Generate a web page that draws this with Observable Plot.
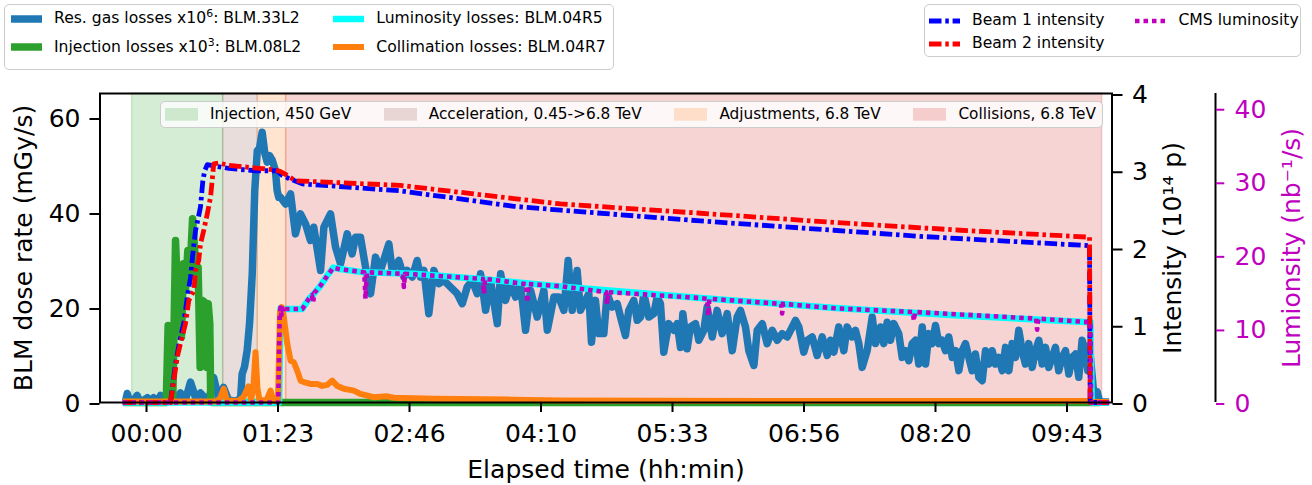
<!DOCTYPE html>
<html>
<head>
<meta charset="utf-8">
<script src="https://cdn.jsdelivr.net/npm/d3@7"></script>
<script src="https://cdn.jsdelivr.net/npm/@observablehq/plot@0.6"></script>
<style>
  html, body { margin: 0; padding: 0; background: #fff; }
  #wrap { position: relative; width: 1312px; height: 485px; overflow: hidden; font-family: "DejaVu Sans", sans-serif; }
  #wrap > svg { position: absolute; left: 0; top: 0; }
  .legend { position: absolute; box-sizing: border-box; border: 1.5px solid #cccccc; border-radius: 5px;
            background: rgba(255,255,255,0.8); font-size: 15.6px; color: #000; }
  .entry { display: flex; align-items: center; white-space: nowrap; line-height: 1.2; }
  .entry svg { flex: none; margin-right: 12px; display: block; }
  .sup { font-size: 0.7em; position: relative; top: -0.55em; }
  #lossLegend { left: 4px; top: 4px; width: 610px; height: 66px; display: grid; grid-auto-flow: column;
                grid-template-rows: 27.5px 29px; column-gap: 31px; padding: 0 6px; align-content: start; }
  #beamLegend { left: 924px; top: 4px; width: 377px; height: 53px; display: grid; grid-auto-flow: column;
                grid-template-rows: 22.7px 22.7px; column-gap: 31px; padding: 4.5px 5px 0 4px; align-content: start; }
  #phaseLegend { left: 160px; top: 101px; width: 943px; height: 27px; display: flex; align-items: center;
                 justify-content: space-between; padding: 0 6px 0 4px; font-size: 15.3px; }
</style>
</head>
<body>
<div id="wrap">
  <div id="lossLegend" class="legend"></div>
  <div id="beamLegend" class="legend"></div>
  <div id="phaseLegend" class="legend"></div>
</div>
<script>
// ---- axis ranges and ticks -------------------------------------------------
const yMax = 65.05;          // BLM dose rate (mGy/s), left axis
const intensityMax = 4;      // beam intensity (1e14 p), right axis
const lumMax = 42;           // luminosity (nb^-1/s), outer right axis
const timeDomain = [-29.47, 611.85];  // elapsed minutes
const timeTickSeconds = [0, 5000, 10000, 15000, 20000, 25000, 30000, 35000];
const timeTickLabels = ["00:00", "01:23", "02:46", "04:10", "05:33", "06:56", "08:20", "09:43"];
const doseTicks = [0, 20, 40, 60];
const intensityTicks = [0, 1, 2, 3, 4];
const lumTicks = [0, 10, 20, 30, 40];

// ---- machine phases (elapsed minutes) ---------------------------------------
const phaseNames = ["Injection, 450 GeV", "Acceleration, 0.45->6.8 TeV", "Adjustments, 6.8 TeV", "Collisions, 6.8 TeV"];
const phaseStart = [-9.1, 48.6, 70.5, 88.5];
const phaseEnd = [48.6, 70.5, 88.5, 605.6];
const phaseColors = ["#2ca02c", "#8c564b", "#ff7f0e", "#d62728"];

// ---- BLM signals, [elapsed minutes, mGy/s] -----------------------------------
const resGasLoss = [
  [-15,0.3],[-13.3,0.3],[-12.2,1.9],[-10.8,0.3],[-9.5,0.2],[-7.5,0.8],[-5.9,1.5],[-4.5,0.4],[-3.2,0.2],[-1.3,0.6],
  [0.6,1.0],[2.5,0.2],[4.4,1.0],[7.0,0.2],[8.9,1.5],[12.0,0.3],[15.2,1.8],[18.4,0.4],[21.5,2.0],[24.7,0.5],
  [27.9,4.3],[31.1,1.0],[34.2,2.0],[37.4,0.8],[40.2,1.5],[42.5,5.3],[45.6,1.0],[48.8,3.2],[52.0,0.5],[56.4,0.3],
  [59.6,0.8],[60.6,6.0],[62.1,7.5],[63.8,11.0],[65.3,16.6],[67.0,27.0],[68.6,44.6],[70.2,53.0],[71.6,53.5],[73.3,56.9],
  [75.0,52.4],[76.5,50.6],[77.9,52.0],[79.7,51.0],[81.7,48.8],[82.8,44.6],[83.8,43.2],
  [84.9,43.2],[88.1,41.8],[91.3,43.9],[94.4,35.5],[97.6,39.7],[100.8,37.6],[103.9,34.1],[106.0,36.9],[110.3,27.8],
  [112.4,36.9],[116.6,39.7],[119.8,32.7],[123.0,29.2],[127.2,35.5],[130.3,31.3],[132.5,34.8],[135.6,34.8],[138.8,28.5],
  [142.0,22.9],[145.1,30.6],[148.3,27.8],[153.6,33.4],[155.7,27.8],[159.9,29.9],[163.1,26.4],[165.2,27.8],[168.4,26.4],
  [171.5,29.9],[173.6,26.4],[175.8,27.8],[178.9,18.7],[182.1,27.8],[185.3,25.0],[188.4,25.7],[192.7,24.3],[196.9,22.9],
  [200.1,20.8],[203.2,24.3],[206.4,25.7],[209.6,22.9],[211.7,27.1],[214.9,19.4],[218.0,25.7],[222.3,16.6],[224.4,27.1],
  [227.5,21.5],[230.7,25.0],[233.9,22.2],[237.0,25.0],[240.2,15.2],[243.4,23.6],[247.6,18.0],[251.8,23.6],[254.0,15.2],
  [258.2,22.2],[261.3,22.2],[264.5,19.4],[267.2,29.9],[269.8,19.4],[272.9,27.8],[275.0,19.4],[278.2,21.5],[280.3,22.9],
  [282.0,12.7],[284.5,21.5],[286.6,14.5],[289.8,14.5],[291.9,22.9],[295.1,20.1],[298.3,20.8],[300.4,18.0],[303.5,14.1],
  [305.6,19.4],[308.8,21.5],[311.0,17.3],[313.1,18.0],[315.2,22.9],[318.3,18.0],[321.5,18.7],[323.6,22.2],[325.7,20.8],
  [327.8,10.6],[331.0,16.6],[334.2,15.2],[336.3,16.6],[338.4,11.6],[339.9,18.7],[342.6,11.3],[344.7,15.9],[347.9,16.6],
  [350.0,13.1],[353.2,15.2],[355.3,20.1],[358.5,13.8],[361.6,19.4],[364.8,14.5],[368.0,18.7],[371.2,10.9],[374.3,18.0],
  [376.4,19.4],[379.6,15.9],[381.7,10.9],[384.9,7.8],[387.0,15.2],[390.2,16.6],[393.3,12.4],[396.5,15.2],[399.7,13.1],
  [402.8,14.5],[406.0,13.8],[409.2,15.9],[411.3,17.3],[413.4,15.9],[416.5,10.6],[418.7,13.1],[421.9,13.8],[425.0,9.9],
  [428.2,13.8],[431.4,9.9],[433.5,13.1],[435.6,10.6],[438.7,15.9],[441.9,10.9],[444.0,15.9],[447.2,13.8],[449.3,15.2],
  [451.4,12.4],[453.5,7.4],[456.7,10.9],[459.9,18.0],[462.0,12.4],[465.1,15.9],[467.2,12.4],[469.4,16.9],[471.5,13.1],
  [473.6,16.6],[476.7,14.5],[478.9,9.5],[481.0,10.9],[483.1,8.8],[485.2,12.4],[487.3,13.1],[489.4,8.1],[491.6,15.9],
  [493.7,8.1],[495.8,14.5],[497.9,12.4],[500.0,16.2],[502.1,12.4],[504.2,13.1],[506.3,10.9],[508.4,13.8],[510.6,9.5],
  [512.7,10.9],[514.8,6.7],[516.9,10.9],[519.0,12.4],[521.1,9.5],[523.2,6.7],[525.3,10.2],[527.5,5.3],[529.6,4.6],
  [531.7,10.9],[533.8,8.1],[535.9,10.9],[538.0,8.1],[540.1,9.5],[542.3,6.7],[544.4,11.6],[546.5,6.7],[548.6,12.4],
  [550.7,9.5],[552.8,15.2],[554.9,10.9],[557.0,8.1],[559.1,12.4],[561.3,7.4],[563.4,10.9],[565.5,13.1],[567.6,8.1],
  [569.7,11.6],[571.8,7.4],[573.9,9.5],[576.0,11.6],[578.1,6.7],[580.3,9.5],[582.4,10.9],[584.5,6.0],[586.6,9.5],
  [588.7,10.2],[590.8,5.3],[592.9,13.1],[595.1,10.9],[596.5,6.7],[598.2,9.5],[600.3,1.8],[602.5,2.2],[604.1,0.1],[610,0.1]
];

const injectionLoss = [
  [-15,0],[12.5,0],[13.7,16.2],[15.4,0.3],[16.7,1.0],[18.4,34.1],[19.6,23.6],[21.3,23.6],[22.2,13.8],[23.4,29.2],
  [24.7,23.6],[26.2,32.0],[27.4,26.4],[29.2,38.7],[30.4,32.7],[31.7,26.4],[32.7,28.5],[34.0,7.4],[35.3,21.5],[37.0,21.1],
  [38.2,7.4],[39.1,20.8],[40.1,16.6],[40.7,0.3],[41.5,0],[604,0]
];

const luminosityLoss = [
  [-15,0],[84.0,0],[85.0,19.9],[86.8,19.7],[98.7,19.7],[102.9,21.8],[106.0,22.9],[110.3,24.6],[114.5,26.7],[118.3,28.4],
  [122.9,28.1],[137.7,27.4],[169.4,27.1],[211.7,26.0],[262.4,24.4],[351.1,22.0],[436.6,19.9],[509.5,18.4],[598.2,16.9],
  [599.0,0],[610,0]
];

const collimationLoss = [
  [-15,0.2],[44,0.2],[46.5,0.8],[49.0,2.9],[51.0,0.4],[58,0.3],[61.5,1.2],[64.6,3.4],[66.3,0.6],[67.8,3.5],[69.1,10.6],
  [70.3,3.0],[71.6,0.5],[76.0,0.5],[78.6,2.5],[80.5,0.3],[83.3,0.3],[84.6,19.0],[85.7,20.1],[87.0,18.0],[89.2,12.4],
  [91.3,8.8],[93.3,8.5],[95.5,6.7],[97.6,4.6],[99.7,4.3],[103.9,3.9],[108.2,3.9],[111.3,3.5],[114.5,3.7],[117.7,4.6],
  [120.8,3.5],[125.0,2.9],[131.4,2.5],[135.6,1.8],[144.0,1.1],[152.5,1.3],[156.7,1.0],[182.1,0.8],[231.7,0.6],[262.4,0.4],
  [414.4,0.3],[597.5,0.3],[598.5,0.1],[610,0.1]
];

// ---- beam intensities, [elapsed minutes, 1e14 protons] ------------------------
const beam1Intensity = [
  [-15,0],[15.2,0],[18.4,0.50],[21.5,0.85],[23.6,1.02],[25.8,1.36],[27.9,1.62],[29.6,1.97],[31.1,2.23],[32.5,2.36],
  [34.2,2.53],[35.7,2.87],[36.9,3.00],[38.5,3.08],[43.7,3.06],[52.2,3.03],[69.1,3.00],[82.8,3.00],[86.0,2.94],[90.2,2.90],
  [98.7,2.83],[161.0,2.74],[232.8,2.54],[262.4,2.49],[351.1,2.35],[435.4,2.23],[490.5,2.15],[597.6,2.03],[598.0,0],[610,0]
];
const beam2Intensity = [
  [-15,0],[15.2,0],[17.3,0.28],[19.5,0.59],[21.5,0.76],[24.7,1.02],[26.8,1.32],[30.0,1.45],[31.1,1.71],[33.1,1.84],
  [34.2,2.05],[36.3,2.23],[38.5,2.44],[40.6,2.66],[41.6,2.87],[42.6,3.09],[45.8,3.10],[52.2,3.07],[81.7,3.01],[84.9,2.99],
  [89.2,2.94],[94.4,2.87],[161.0,2.81],[232.8,2.64],[262.4,2.57],[351.1,2.45],[436.6,2.33],[515.8,2.23],[597.6,2.14],
  [598.0,0],[610,0]
];

// ---- CMS luminosity, [elapsed minutes, nb^-1/s] -------------------------------
const cmsLuminosity = [
  [-15,0],[83.5,0],[84.4,12.0],[84.9,12.9],[85.5,11.9],[86.0,12.8],[86.8,12.3],[87.5,12.7],[98.7,12.7],[102.9,14.1],
  [104.8,14.6],[105.6,13.6],[106.3,14.9],[110.3,15.9],[114.5,17.2],[118.3,18.3],[122.9,18.1],[138.0,17.7],[138.8,14.1],
  [139.6,17.7],[162.5,17.5],[163.1,15.7],[163.8,17.5],[213.2,16.8],[213.8,14.8],[214.5,16.8],[240.7,16.1],[241.3,13.6],
  [242.0,16.1],[262.4,15.8],[291.3,15.0],[291.9,13.4],[292.6,15.0],[351.1,14.2],[355.4,14.1],[356.0,11.8],[356.7,14.1],
  [402.2,13.4],[402.8,12.1],[403.5,13.4],[436.6,12.8],[485.7,12.3],[486.3,11.1],[487.0,12.3],[563.8,11.4],[564.4,9.9],
  [565.1,11.4],[598.2,10.9],[598.6,0],[610,0]
];

// ---- labels -------------------------------------------------------------------
const lossLabels = ["Res. gas losses x10^6: BLM.33L2", "Injection losses x10^3: BLM.08L2",
                    "Luminosity losses: BLM.04R5", "Collimation losses: BLM.04R7"];
const beamLabels = ["Beam 1 intensity", "Beam 2 intensity", "CMS luminosity"];
const xLabel = "Elapsed time (hh:min)";
const doseLabel = "BLM dose rate (mGy/s)";
const intensityLabel = "Intensity (10¹⁴ p)";
const lumLabel = "Lumionsity (nb⁻¹/s)";

// ---- styles -------------------------------------------------------------------
const MAGENTA = "#bf00bf";
const lossStyles = [
  {color: "#1f77b4", width: 7.5},
  {color: "#2ca02c", width: 7.5},
  {color: "#00ffff", width: 6.5},
  {color: "#ff7f0e", width: 6}
];
const beamStyles = [
  {color: "#0000ff", width: 4.8, dash: "12.5,3.8,3.5,3.8"},
  {color: "#ff0000", width: 4.8, dash: "12.5,3.8,3.5,3.8"},
  {color: MAGENTA, width: 4.6, dash: "4.5,4"}
];

// Every secondary quantity is drawn on the dose-rate scale after rescaling.
const kI = yMax / intensityMax;
const kL = yMax / lumMax;
const rows = (arr, k = 1) => arr.map(([t, v]) => ({t, y: v * k}));

const timeTicks = timeTickSeconds.map(s => s / 60);
const timeLabelOf = new Map(timeTicks.map((m, i) => [m, timeTickLabels[i]]));
const phases = phaseNames.map((name, i) => ({name, start: phaseStart[i], end: phaseEnd[i], color: phaseColors[i]}));

const lineOpts = (s) => ({x: "t", y: "y", stroke: s.color, strokeWidth: s.width, strokeLinejoin: "round",
                          strokeDasharray: s.dash, strokeLinecap: "butt"});
const titleOpts = {text: d => d, rotate: -90, textAnchor: "middle", lineAnchor: "middle", fontSize: 25};

const chart = Plot.plot({
  width: 1312,
  height: 485,
  marginLeft: 99.5,
  marginRight: 200.5,
  marginTop: 93,
  marginBottom: 83,
  style: {fontFamily: "'DejaVu Sans', sans-serif", fontSize: "25px", color: "#000", background: "transparent"},
  x: {domain: timeDomain},
  y: {domain: [0, yMax]},
  color: {type: "identity"},
  marks: [
    Plot.rect(phases, {x1: "start", x2: "end", fill: "color", fillOpacity: 0.2, stroke: "color", strokeOpacity: 0.2, strokeWidth: 1.5}),
    Plot.line(rows(resGasLoss), lineOpts(lossStyles[0])),
    Plot.line(rows(injectionLoss), lineOpts(lossStyles[1])),
    Plot.line(rows(luminosityLoss), lineOpts(lossStyles[2])),
    Plot.line(rows(collimationLoss), lineOpts(lossStyles[3])),
    Plot.line(rows(beam1Intensity, kI), lineOpts(beamStyles[0])),
    Plot.line(rows(beam2Intensity, kI), lineOpts(beamStyles[1])),
    Plot.line(rows(cmsLuminosity, kL), lineOpts(beamStyles[2])),
    Plot.frame({stroke: "#000", strokeWidth: 2}),
    // bottom time axis
    Plot.axisX(timeTicks, {tickFormat: d => timeLabelOf.get(d), tickSize: 10, tickPadding: 12,
                           strokeWidth: 2, label: null}),
    // left dose-rate axis
    Plot.axisY(doseTicks, {tickSize: 10, tickPadding: 9.5, strokeWidth: 2, label: null, dy: 1.5}),
    // right intensity axis
    Plot.axisY(intensityTicks.map(v => v * kI), {anchor: "right", tickFormat: d => String(Math.round(d / kI)),
                           tickSize: 10, tickPadding: 10, strokeWidth: 2, label: null, dy: 1.5}),
    // offset luminosity axis with its own spine
    Plot.ruleX([timeDomain[1]], {dx: 103.5, stroke: "#000", strokeWidth: 2}),
    Plot.axisY(lumTicks.map(v => v * kL), {anchor: "right", dx: 103.5, color: MAGENTA,
                           tickFormat: d => String(Math.round(d / kL)),
                           tickSize: 8.3, tickPadding: 10.7, strokeWidth: 2, label: null, dy: 1.5}),
    // axis titles
    Plot.text([xLabel], {text: d => d, frameAnchor: "bottom", dy: 67.3, textAnchor: "middle", lineAnchor: "middle", fontSize: 25}),
    Plot.text([doseLabel], {...titleOpts, frameAnchor: "left", dx: -76}),
    Plot.text([intensityLabel], {...titleOpts, frameAnchor: "right", dx: 61}),
    Plot.text([lumLabel], {...titleOpts, frameAnchor: "right", dx: 180, fill: MAGENTA})
  ]
});
document.getElementById("wrap").prepend(chart);

// ---- legends ------------------------------------------------------------------
const sup = s => s.replace(/\^(\d+)/g, '<span class="sup">$1</span>');
function lineSwatch(s) {
  const dash = s.dash ? ` stroke-dasharray="${s.dash}"` : "";
  return `<svg width="31" height="12" viewBox="0 0 31 12"><line x1="0" y1="6" x2="31" y2="6" stroke="${s.color}" stroke-width="${s.width}"${dash}/></svg>`;
}
function patchSwatch(c) {
  return `<svg width="33" height="13" viewBox="0 0 33 13"><rect x="0" y="0" width="33" height="12.7" fill="${c}" fill-opacity="0.2"/></svg>`;
}
document.getElementById("lossLegend").innerHTML = lossLabels
  .map((l, i) => `<div class="entry">${lineSwatch(lossStyles[i])}<span>${sup(l)}</span></div>`).join("");
document.getElementById("beamLegend").innerHTML = beamLabels
  .map((l, i) => `<div class="entry">${lineSwatch(beamStyles[i])}<span>${l}</span></div>`).join("");
document.getElementById("phaseLegend").innerHTML = phaseNames
  .map((l, i) => `<div class="entry">${patchSwatch(phaseColors[i])}<span>${l}</span></div>`).join("");
</script>
</body>
</html>
